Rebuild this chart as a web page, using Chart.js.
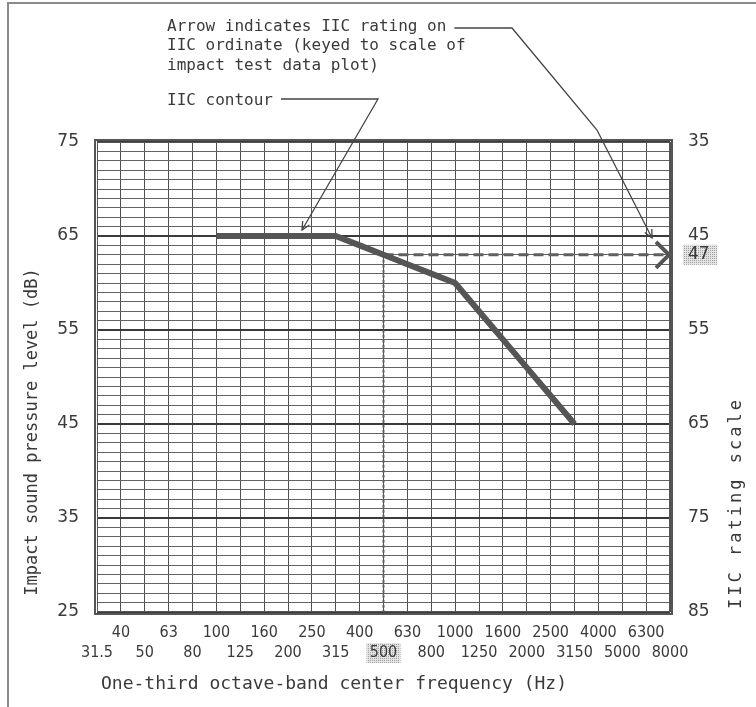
<!DOCTYPE html>
<html>
<head>
<meta charset="utf-8">
<script src="https://cdn.jsdelivr.net/npm/chart.js@4.4.1/dist/chart.umd.min.js"></script>
<style>
  html, body { margin: 0; padding: 0; background: #fff; }
  canvas { display: block; }
</style>
</head>
<body>
<canvas id="iicChart" width="756" height="707"></canvas>
<script>
// one-third octave band centre frequencies (Hz)
const freqLabels = ["31.5", "40", "50", "63", "80", "100", "125", "160", "200", "250", "315", "400",
  "500", "630", "800", "1000", "1250", "1600", "2000", "2500", "3150", "4000", "5000", "6300", "8000"];
// IIC contour (dB)
const contourDb = [null, null, null, null, null, 65, 65, 65, 65, 65, 65, 64, 63, 62, 61, 60, 57, 54, 51, 48, 45,
  null, null, null, null];
const leftTickLabels = [25, 35, 45, 55, 65, 75];
const rightTickLabels = [35, 45, 47, 55, 65, 75, 85];
const iicRating = 47;
const iicDb = 63; // left-scale value matching IIC 47
const keyFreq = "500";
const arrowEnd = "8000";
const floorDb = 25;

const ink = "#3a3a3a";
const tickFont = "'Liberation Sans Narrow', 'DejaVu Sans Condensed', sans-serif";
const handFont = "'DejaVu Sans Mono', monospace";

// stippled highlight behind "47" and "500"
const dots = document.createElement("canvas");
dots.width = 2; dots.height = 2;
(function () {
  const g = dots.getContext("2d");
  g.fillStyle = "#e4e4e4"; g.fillRect(0, 0, 2, 2);
  g.fillStyle = "#a0a0a0"; g.fillRect(0, 0, 1, 1);
})();

function arrowHead(ctx, fromX, fromY, toX, toY, len) {
  const a = Math.atan2(toY - fromY, toX - fromX);
  ctx.beginPath();
  ctx.moveTo(toX - len * Math.cos(a - 0.45), toY - len * Math.sin(a - 0.45));
  ctx.lineTo(toX, toY);
  ctx.lineTo(toX - len * Math.cos(a + 0.45), toY - len * Math.sin(a + 0.45));
  ctx.stroke();
}

const notes = {
  id: "notes",
  beforeDraw(chart) {
    const ctx = chart.ctx;
    const x = chart.scales.x, yR = chart.scales.yR;
    ctx.save();
    ctx.fillStyle = ctx.createPattern(dots, "repeat");
    const y47 = yR.getPixelForValue(iicRating);
    ctx.fillRect(chart.chartArea.right + 13, y47 - 10, 34, 20);
    const x500 = x.getPixelForValue(freqLabels.indexOf(keyFreq));
    ctx.fillRect(x500 - 17, x.top + 31, 34, 20);
    ctx.restore();
  },
  afterDraw(chart) {
    const ctx = chart.ctx;
    const a = chart.chartArea;
    ctx.save();

    // outer page frame
    ctx.strokeStyle = "#8a8a8a";
    ctx.lineWidth = 2;
    ctx.beginPath();
    ctx.moveTo(8, 707); ctx.lineTo(8, 3); ctx.lineTo(756, 3);
    ctx.stroke();

    // plot frame (double line)
    ctx.strokeStyle = "#555";
    ctx.lineWidth = 2;
    ctx.strokeRect(a.left - 2, a.top - 2, a.right - a.left + 4, a.bottom - a.top + 4);
    ctx.lineWidth = 1;
    ctx.strokeRect(a.left + 0.5, a.top + 0.5, a.right - a.left - 1, a.bottom - a.top - 1);

    // chevron at end of the dashed IIC arrow
    const meta = chart.getDatasetMeta(1);
    const tip = meta.data[meta.data.length - 1];
    ctx.strokeStyle = "#555";
    ctx.lineWidth = 4;
    ctx.beginPath();
    ctx.moveTo(tip.x - 14, tip.y - 13);
    ctx.lineTo(tip.x - 1, tip.y);
    ctx.lineTo(tip.x - 14, tip.y + 13);
    ctx.stroke();

    // annotation text
    ctx.fillStyle = ink;
    ctx.textBaseline = "middle";
    ctx.textAlign = "left";
    ctx.font = "16px " + handFont;
    const l1 = "Arrow indicates IIC rating on";
    ctx.fillText(l1, 167, 27);
    ctx.fillText("IIC ordinate (keyed to scale of", 167, 46);
    ctx.fillText("impact test data plot)", 167, 66);
    ctx.fillText("IIC contour", 167, 101);
    const w1 = ctx.measureText(l1).width;
    const w2 = ctx.measureText("IIC contour").width;

    // leader lines
    ctx.strokeStyle = "#444";
    ctx.lineWidth = 1.3;
    ctx.beginPath();
    ctx.moveTo(167 + w1 + 8, 28);
    ctx.lineTo(512, 28);
    ctx.lineTo(597, 130);
    ctx.lineTo(652, 238);
    ctx.stroke();
    arrowHead(ctx, 597, 130, 652, 238, 9);

    ctx.beginPath();
    ctx.moveTo(167 + w2 + 8, 99);
    ctx.lineTo(378, 99);
    ctx.lineTo(302, 230);
    ctx.stroke();
    arrowHead(ctx, 378, 99, 302, 230, 9);

    // axis titles
    ctx.textAlign = "center";
    ctx.font = "18px " + handFont;
    ctx.fillText("One-third octave-band center frequency (Hz)", 334, 684);

    ctx.font = "17px " + handFont;
    ctx.save();
    ctx.translate(33, 432);
    ctx.rotate(-Math.PI / 2);
    ctx.fillText("Impact sound pressure level (dB)", 0, 0);
    ctx.restore();

    ctx.save();
    ctx.translate(737, 503);
    ctx.rotate(-Math.PI / 2);
    ctx.letterSpacing = "3px";
    ctx.fillText("IIC rating scale", 0, 0);
    ctx.restore();

    ctx.restore();
  }
};

const ctx = document.getElementById("iicChart").getContext("2d");
new Chart(ctx, {
  type: "line",
  data: {
    labels: freqLabels,
    datasets: [
      {
        label: "IIC contour",
        data: contourDb,
        borderColor: "#555",
        borderWidth: 6,
        pointRadius: 0,
        tension: 0,
        yAxisID: "y"
      },
      {
        label: "IIC rating arrow",
        data: [{ x: keyFreq, y: iicDb }, { x: arrowEnd, y: iicDb }],
        borderColor: "#606060",
        borderWidth: 3,
        borderDash: [10, 5],
        pointRadius: 0,
        yAxisID: "y"
      },
      {
        label: "500 Hz marker",
        data: [{ x: keyFreq, y: iicDb }, { x: keyFreq, y: floorDb }],
        borderColor: "#606060",
        borderWidth: 2,
        borderDash: [3, 2],
        pointRadius: 0,
        yAxisID: "y"
      }
    ]
  },
  options: {
    responsive: false,
    animation: false,
    devicePixelRatio: 1,
    layout: { padding: { top: 142, left: 0, right: 0, bottom: 0 } },
    plugins: { legend: { display: false }, tooltip: { enabled: false } },
    scales: {
      x: {
        type: "category",
        offset: false,
        afterFit: (s) => { s.height = 95; },
        border: { display: false },
        grid: { color: "#505050", lineWidth: 1, drawTicks: false },
        ticks: {
          autoSkip: false,
          maxRotation: 0,
          padding: 10,
          color: ink,
          font: { family: tickFont, size: 16, lineHeight: 1.3 },
          callback: (v, i) => (i % 2 ? [freqLabels[i], ""] : ["", freqLabels[i]])
        }
      },
      y: {
        position: "left",
        min: 25,
        max: 75,
        afterFit: (s) => { s.width = 97; },
        border: { display: false },
        grid: {
          drawTicks: false,
          color: (c) => (leftTickLabels.includes(c.tick.value) ? "#3a3a3a" : "#626262"),
          lineWidth: (c) => (leftTickLabels.includes(c.tick.value) ? 2 : 1)
        },
        ticks: {
          stepSize: 1,
          autoSkip: false,
          padding: 18,
          color: ink,
          font: { family: "'DejaVu Sans', sans-serif", size: 17 },
          callback: (v) => (leftTickLabels.includes(v) ? String(v) : "")
        }
      },
      yR: {
        position: "right",
        reverse: true,
        min: 35,
        max: 85,
        afterFit: (s) => { s.width = 86; },
        afterBuildTicks: (s) => { s.ticks = rightTickLabels.map((v) => ({ value: v })); },
        border: { display: false },
        grid: { drawOnChartArea: false, drawTicks: false },
        ticks: {
          autoSkip: false,
          padding: 18,
          color: ink,
          font: { family: "'DejaVu Sans', sans-serif", size: 17 }
        }
      }
    }
  },
  plugins: [notes]
});
</script>
</body>
</html>
